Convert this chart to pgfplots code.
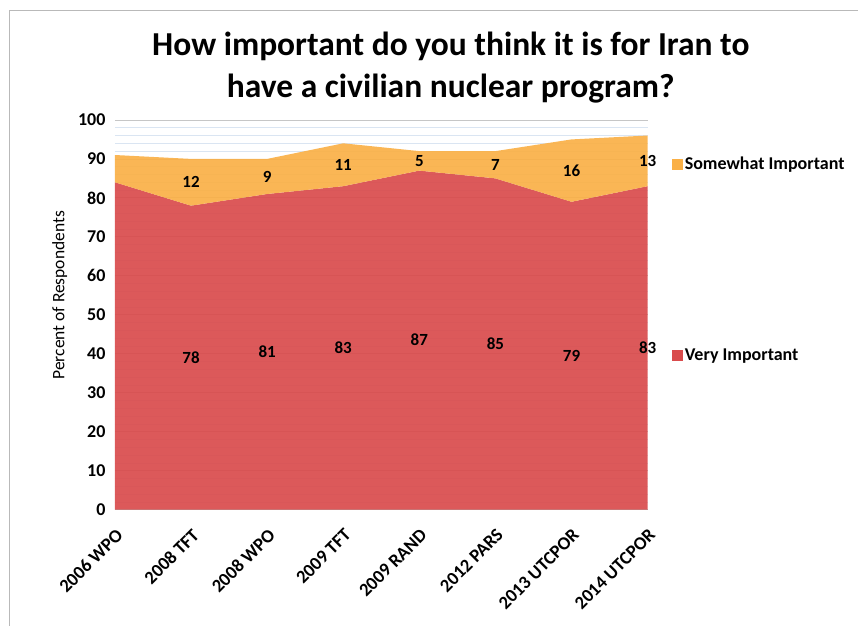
\documentclass[border=0pt]{standalone}
\usepackage{pgfplots}
\pgfplotsset{compat=1.18}
\usepackage{fontspec}
\setmainfont{Carlito}

\definecolor{veryred}{RGB}{217,75,76}
\definecolor{someorange}{RGB}{250,176,70}
\definecolor{minorblue}{RGB}{218,229,242}

\pgfplotsset{sqlegend/.style={legend image code/.code={%
  \fill[##1] (0pt,-5.5pt) rectangle (11pt,5.5pt);}}}

\begin{document}
\begin{tikzpicture}
% frame of the chart
\path (0pt,0pt) rectangle (858pt,626pt);
\draw[gray!55, line width=1pt] (10pt,0pt) -- (10pt,615pt) -- (858pt,615pt);
\node[align=center, font=\bfseries\fontsize{33.5}{42}\selectfont] at (451pt,558pt)
  {How important do you think it is for Iran to\\have a civilian nuclear program?};

\begin{axis}[
  at={(115pt,116pt)}, anchor=south west,
  scale only axis,
  width=533pt, height=390pt,
  xmin=0, xmax=7, ymin=0, ymax=100,
  xtick={0,...,7},
  xticklabels={2006 WPO,2008 TFT,2008 WPO,2009 TFT,2009 RAND,2012 PARS,2013 UTCPOR,2014 UTCPOR},
  ytick distance=10,
  minor y tick num=4,
  ymajorgrids, yminorgrids,
  major grid style={gray!45, line width=0.8pt},
  minor grid style={minorblue, line width=0.8pt},
  major tick length=0pt, minor tick length=0pt,
  axis x line*=bottom,
  axis y line*=left,
  x axis line style={gray!60, line width=1pt, -},
  y axis line style={draw=none},
  /pgf/number format/assume math mode=true,
  tick label style={font=\bfseries\fontsize{18}{18}\selectfont},
  yticklabel style={xshift=-6pt},
  xticklabel style={yshift=-13pt, rotate=45, anchor=north east,
    font=\bfseries\fontsize{18.5}{18.5}\selectfont},
  ylabel={Percent of Respondents},
  ylabel style={font=\fontsize{17.5}{17.5}\selectfont, at={(ticklabel cs:0.55)}, anchor=south, yshift=4pt},
  legend style={at={(1.045,0.91)}, anchor=north west, draw=none, fill=none,
    font=\bfseries\fontsize{18}{18}\selectfont, row sep=174pt,
    legend cell align=left, inner sep=0pt},
  clip=false,
]
\addplot[draw=none, fill=veryred, fill opacity=0.92, forget plot]
  coordinates {
  (0,84) (1,78) (2,81) (3,83) (4,87) (5,85) (6,79) (7,83)
} \closedcycle;

% somewhat important band: top = very + somewhat, bottom = very
\addplot[draw=none, fill=someorange, fill opacity=0.92, forget plot]
  coordinates {
  (0,91) (1,90) (2,90) (3,94) (4,92) (5,92) (6,95) (7,96)
  (7,83) (6,79) (5,85) (4,87) (3,83) (2,81) (1,78) (0,84)
} -- cycle;

\addlegendimage{sqlegend, fill=someorange, draw=none}
\addlegendentry{Somewhat Important}
\addlegendimage{sqlegend, fill=veryred, draw=none}
\addlegendentry{Very Important}

% data labels
\addplot[draw=none, mark=none, forget plot, nodes near coords, point meta=explicit symbolic,
  every node near coord/.style={anchor=center, text=black, font=\bfseries\fontsize{17}{17}\selectfont}]
  coordinates {
  (1,39)[78] (2,40.5)[81] (3,41.5)[83] (4,43.5)[87] (5,42.5)[85] (6,39.5)[79] (7,41.5)[83]
};
\addplot[draw=none, mark=none, forget plot, nodes near coords, point meta=explicit symbolic,
  every node near coord/.style={anchor=center, text=black, font=\bfseries\fontsize{17}{17}\selectfont}]
  coordinates {
  (1,84)[12] (2,85.5)[9] (3,88.5)[11] (4,89.5)[5] (5,88.5)[7] (6,87)[16] (7,89.5)[13]
};
\end{axis}
\end{tikzpicture}
\end{document}
